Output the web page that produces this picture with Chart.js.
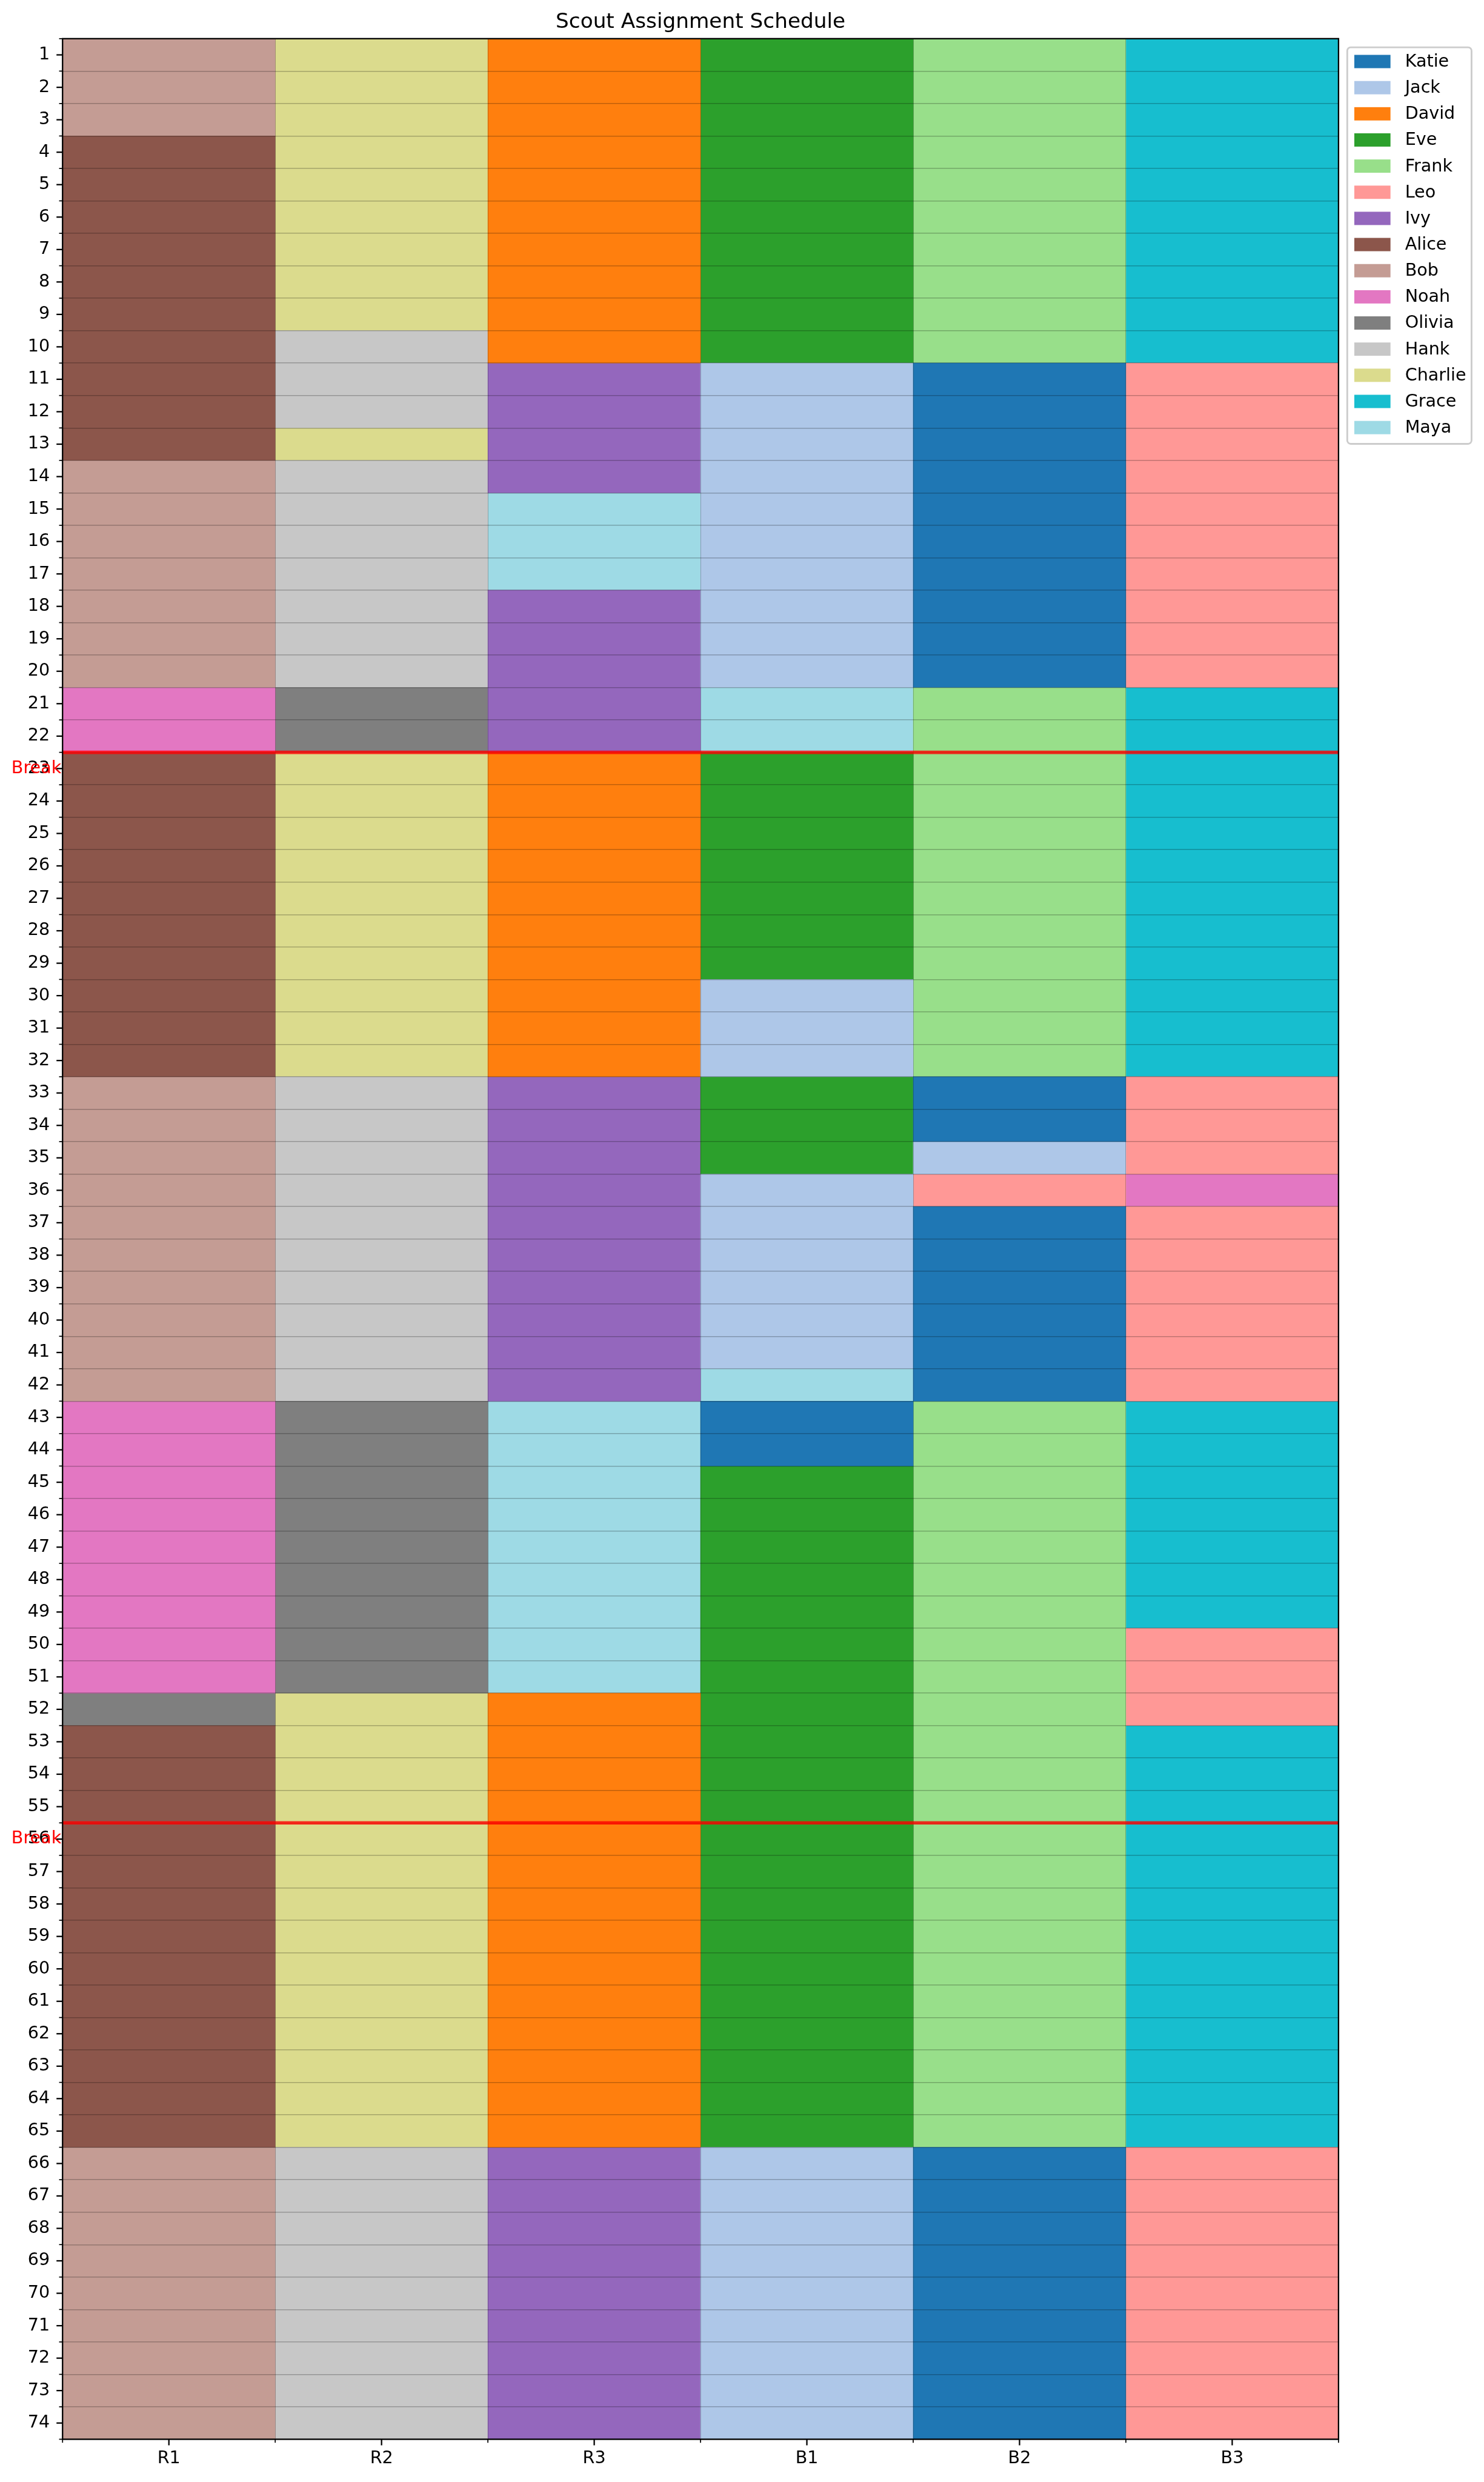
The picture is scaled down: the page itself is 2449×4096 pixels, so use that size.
<!DOCTYPE html>
<html>
<head>
<meta charset="utf-8">
<script src="https://cdn.jsdelivr.net/npm/chart.js@4.4.1/dist/chart.umd.min.js"></script>
<style>
html,body{margin:0;padding:0;background:#ffffff;}
canvas{display:block;}
</style>
</head>
<body>
<canvas id="c" width="2449" height="4096"></canvas>
<script>
// ---------------- data ----------------
const chartTitle = 'Scout Assignment Schedule';
const columns = ['R1', 'R2', 'R3', 'B1', 'B2', 'B3'];
const slotLabels = ['1','2','3','4','5','6','7','8','9','10','11','12','13','14','15','16','17','18','19','20',
  '21','22','23','24','25','26','27','28','29','30','31','32','33','34','35','36','37','38','39','40',
  '41','42','43','44','45','46','47','48','49','50','51','52','53','54','55','56','57','58','59','60',
  '61','62','63','64','65','66','67','68','69','70','71','72','73','74'];
const people = ['Katie','Jack','David','Eve','Frank','Leo','Ivy','Alice','Bob','Noah','Olivia','Hank','Charlie','Grace','Maya'];
const peopleColors = ['#1f77b4','#aec7e8','#ff7f0e','#2ca02c','#98df8a','#ff9896','#9467bd','#8c564b','#c49c94','#e377c2','#7f7f7f','#c7c7c7','#dbdb8d','#17becf','#9edae5'];
// slots after which a break line is drawn
const breakAfter = [22, 55];

// assignments per post: [scout, first slot, last slot]
const R1 = [['Bob',1,3],['Alice',4,13],['Bob',14,20],['Noah',21,22],['Alice',23,32],['Bob',33,42],['Noah',43,51],['Olivia',52,52],['Alice',53,65],['Bob',66,74]];
const R2 = [['Charlie',1,9],['Hank',10,12],['Charlie',13,13],['Hank',14,20],['Olivia',21,22],['Charlie',23,32],['Hank',33,42],['Olivia',43,51],['Charlie',52,65],['Hank',66,74]];
const R3 = [['David',1,10],['Ivy',11,14],['Maya',15,17],['Ivy',18,22],['David',23,32],['Ivy',33,42],['Maya',43,51],['David',52,65],['Ivy',66,74]];
const B1 = [['Eve',1,10],['Jack',11,20],['Maya',21,22],['Eve',23,29],['Jack',30,32],['Eve',33,35],['Jack',36,41],['Maya',42,42],['Katie',43,44],['Eve',45,65],['Jack',66,74]];
const B2 = [['Frank',1,10],['Katie',11,20],['Frank',21,32],['Katie',33,34],['Jack',35,35],['Leo',36,36],['Katie',37,42],['Frank',43,65],['Katie',66,74]];
const B3 = [['Grace',1,10],['Leo',11,20],['Grace',21,32],['Leo',33,35],['Noah',36,36],['Leo',37,42],['Grace',43,49],['Leo',50,52],['Grace',53,65],['Leo',66,74]];
const postRuns = [R1, R2, R3, B1, B2, B3];

// ---------------- build datasets ----------------
const datasets = people.map((p, pi) => {
  const data = [];
  postRuns.forEach((runs, ci) => {
    runs.forEach(r => {
      if (r[0] === p) data.push({x: columns[ci], y: [r[1] - 0.5, r[2] + 0.5]});
    });
  });
  return {label: p, data, backgroundColor: peopleColors[pi], borderWidth: 0};
});

// ---------------- sizes (0.686 of reference) ----------------
const S = 0.686;
const FONT = '"DejaVu Sans", "Liberation Sans", sans-serif';
const tickFont = 41.7 * S;      // 10pt at 300dpi
const titleFont = 50 * S;       // 12pt
const CA = {left: 150.5 * S, top: 93 * S, right: 3220 * S, bottom: 5868 * S};

const decor = {
  id: 'decor',
  afterDraw(chart) {
    const ctx = chart.ctx;
    const ca = chart.chartArea;
    const xs = chart.scales.x, ys = chart.scales.y;
    ctx.save();

    // title
    ctx.fillStyle = '#000';
    ctx.font = titleFont + 'px ' + FONT;
    ctx.textAlign = 'center';
    ctx.textBaseline = 'alphabetic';
    ctx.fillText(chartTitle, (ca.left + ca.right) / 2, 67.5 * S);

    // break lines + labels
    breakAfter.forEach(b => {
      const y = ys.getPixelForValue(b + 0.5);
      ctx.strokeStyle = 'rgba(255,0,0,0.8)';
      ctx.lineWidth = 8.3 * S;
      ctx.beginPath();
      ctx.moveTo(ca.left, y);
      ctx.lineTo(ca.right, y);
      ctx.stroke();
      ctx.fillStyle = '#ff0000';
      ctx.font = tickFont + 'px ' + FONT;
      ctx.textAlign = 'right';
      ctx.textBaseline = 'middle';
      ctx.fillText('Break', ca.left - 2, ys.getPixelForValue(b + 1));
    });

    // spines
    ctx.strokeStyle = '#000';
    ctx.lineWidth = 3.33 * S;
    ctx.strokeRect(ca.left, ca.top, ca.right - ca.left, ca.bottom - ca.top);

    // tick marks
    const majL = 14.6 * S, minL = 8.3 * S;
    ctx.strokeStyle = '#000';
    slotLabels.forEach((lab, i) => {
      const y = ys.getPixelForValue(i + 1);
      ctx.lineWidth = 3.33 * S;
      ctx.beginPath(); ctx.moveTo(ca.left, y); ctx.lineTo(ca.left - majL, y); ctx.stroke();
    });
    for (let i = 0; i <= slotLabels.length; i++) {
      const y = ys.getPixelForValue(i + 0.5);
      ctx.lineWidth = 2.5 * S;
      ctx.beginPath(); ctx.moveTo(ca.left, y); ctx.lineTo(ca.left - minL, y); ctx.stroke();
    }
    const colW = (ca.right - ca.left) / columns.length;
    columns.forEach((c, i) => {
      const x = xs.getPixelForValue(i);
      ctx.lineWidth = 3.33 * S;
      ctx.beginPath(); ctx.moveTo(x, ca.bottom); ctx.lineTo(x, ca.bottom + majL); ctx.stroke();
    });
    for (let i = 0; i <= columns.length; i++) {
      const x = ca.left + i * colW;
      ctx.lineWidth = 2.5 * S;
      ctx.beginPath(); ctx.moveTo(x, ca.bottom); ctx.lineTo(x, ca.bottom + minL); ctx.stroke();
    }

    // legend
    const lx = 3241 * S, ly = 113.8 * S, lw = 299 * S, lh = 954 * S, rr = 8.3 * S;
    ctx.beginPath();
    ctx.moveTo(lx + rr, ly);
    ctx.lineTo(lx + lw - rr, ly);
    ctx.arcTo(lx + lw, ly, lx + lw, ly + rr, rr);
    ctx.lineTo(lx + lw, ly + lh - rr);
    ctx.arcTo(lx + lw, ly + lh, lx + lw - rr, ly + lh, rr);
    ctx.lineTo(lx + rr, ly + lh);
    ctx.arcTo(lx, ly + lh, lx, ly + lh - rr, rr);
    ctx.lineTo(lx, ly + rr);
    ctx.arcTo(lx, ly, lx + rr, ly, rr);
    ctx.closePath();
    ctx.fillStyle = 'rgba(255,255,255,0.8)';
    ctx.fill();
    ctx.strokeStyle = '#cccccc';
    ctx.lineWidth = 4.17 * S;
    ctx.stroke();
    ctx.font = tickFont + 'px ' + FONT;
    ctx.textAlign = 'left';
    ctx.textBaseline = 'middle';
    chart.data.datasets.forEach((ds, i) => {
      const cy = (148 + i * 62.9) * S;
      ctx.fillStyle = ds.backgroundColor;
      ctx.fillRect(3258 * S, cy - 16 * S, 87 * S, 32 * S);
      ctx.fillStyle = '#000';
      ctx.fillText(ds.label, 3380 * S, cy + 1);
    });
    ctx.restore();
  }
};

new Chart(document.getElementById('c').getContext('2d'), {
  type: 'bar',
  data: {labels: columns, datasets},
  options: {
    responsive: false,
    animation: false,
    devicePixelRatio: 1,
    events: [],
    layout: {padding: {top: CA.top, left: 0, right: 2449 - CA.right, bottom: 0}},
    datasets: {bar: {grouped: false, barPercentage: 1, categoryPercentage: 1, borderWidth: 0}},
    scales: {
      x: {
        type: 'category',
        offset: true,
        grid: {z: 1, offset: true, color: 'rgba(0,0,0,0.22)', lineWidth: 1, drawTicks: true, tickLength: 10, tickColor: 'rgba(0,0,0,0)'},
        border: {display: false},
        ticks: {color: '#000', font: {family: FONT, size: tickFont}, padding: 5, autoSkip: false, maxRotation: 0},
        afterFit: s => { s.height = 4096 - CA.bottom; }
      },
      y: {
        type: 'linear',
        min: 0.5,
        max: slotLabels.length + 0.5,
        reverse: true,
        afterBuildTicks: s => {
          const t = [];
          for (let i = 0; i < slotLabels.length; i++) { t.push({value: i + 0.5}); t.push({value: i + 1}); }
          t.push({value: slotLabels.length + 0.5});
          s.ticks = t;
        },
        grid: {
          z: 1,
          color: c => (c.tick && Number.isInteger(c.tick.value)) ? 'rgba(0,0,0,0)' : 'rgba(0,0,0,0.25)',
          lineWidth: 1.4, drawTicks: true, tickLength: 10, tickColor: 'rgba(0,0,0,0)'
        },
        border: {display: false},
        ticks: {
          color: '#000', font: {family: FONT, size: tickFont}, padding: 11, autoSkip: false,
          callback: v => Number.isInteger(v) ? slotLabels[v - 1] : ''
        },
        afterFit: s => { s.width = CA.left; }
      }
    },
    plugins: {legend: {display: false}, title: {display: false}, tooltip: {enabled: false}}
  },
  plugins: [decor]
});
</script>
</body>
</html>
